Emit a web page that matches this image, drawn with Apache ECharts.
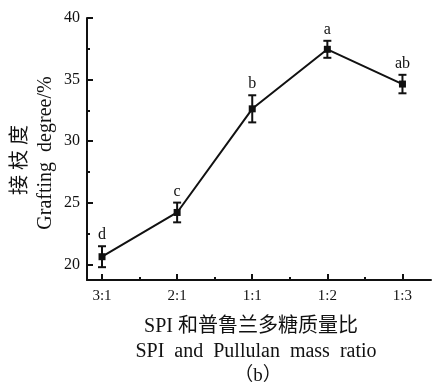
<!DOCTYPE html>
<html><head><meta charset="utf-8">
<script src="https://cdn.jsdelivr.net/npm/echarts@6/dist/echarts.min.js"></script>
<style>html,body{margin:0;padding:0;background:#fff}#c{width:432px;height:382px}</style>
</head><body><div id="c"></div>
<script>
const categories = ['3:1', '2:1', '1:1', '1:2', '1:3'];
const values = [20.63, 24.22, 32.63, 37.46, 34.64];
const errors = [0.85, 0.80, 1.10, 0.69, 0.75];
const letters = ['d', 'c', 'b', 'a', 'ab'];
const xPositions = [1, 2, 3, 4, 5];
const xMinorTicks = [1.5, 2.5, 3.5, 4.5];
const yTicks = [20, 25, 30, 35, 40];
const yMinorTicks = [22.5, 27.5, 32.5, 37.5];

const serif = '"Liberation Serif", "Noto Sans CJK SC", serif';
const ink = '#111';

const lineData = xPositions.map((x, i) => [x, values[i]]);
const errData = xPositions.map((x, i) => [x, values[i], errors[i]]);

const chart = echarts.init(document.getElementById('c'), null, {renderer: 'canvas'});
const xBase = {type: 'value', min: 0.8, max: 5.38, gridIndex: 0, splitLine: {show: false}};
const yBase = {type: 'value', min: 18.74, max: 40, gridIndex: 0, splitLine: {show: false}};
chart.setOption({
  animation: false,
  backgroundColor: '#fff',
  grid: {left: 87, right: 1, top: 18, bottom: 102, containLabel: false},
  xAxis: [
    Object.assign({}, xBase, {
      position: 'bottom',
      axisLine: {show: true, lineStyle: {color: ink, width: 2}},
      axisTick: {show: true, inside: true, length: 6, customValues: xPositions, lineStyle: {color: ink, width: 2}},
      axisLabel: {show: true, customValues: xPositions, margin: 9, color: ink, fontSize: 15, fontFamily: serif,
        formatter: v => categories[Math.round(v) - 1]}
    }),
    Object.assign({}, xBase, {
      position: 'bottom',
      axisLine: {show: false},
      axisTick: {show: true, inside: true, length: 3, customValues: xMinorTicks, lineStyle: {color: ink, width: 2}},
      axisLabel: {show: false}
    })
  ],
  yAxis: [
    Object.assign({}, yBase, {
      position: 'left',
      axisLine: {show: true, lineStyle: {color: ink, width: 2}},
      axisTick: {show: true, inside: true, length: 6, customValues: yTicks, lineStyle: {color: ink, width: 2}},
      axisLabel: {show: true, customValues: yTicks, margin: 7, color: ink, fontSize: 16, fontFamily: serif}
    }),
    Object.assign({}, yBase, {
      position: 'left',
      axisLine: {show: false},
      axisTick: {show: true, inside: true, length: 3, customValues: yMinorTicks, lineStyle: {color: ink, width: 2}},
      axisLabel: {show: false}
    })
  ],
  series: [
    {
      type: 'custom', xAxisIndex: 0, yAxisIndex: 0, data: errData, z: 3,
      renderItem: (params, api) => {
        const x = api.value(0), y = api.value(1), e = api.value(2);
        const top = api.coord([x, y + e]);
        const bot = api.coord([x, y - e]);
        const hw = 4;
        const st = {stroke: ink, lineWidth: 2};
        return {type: 'group', children: [
          {type: 'line', shape: {x1: top[0], y1: top[1], x2: bot[0], y2: bot[1]}, style: st},
          {type: 'line', shape: {x1: top[0] - hw, y1: top[1], x2: top[0] + hw, y2: top[1]}, style: st},
          {type: 'line', shape: {x1: bot[0] - hw, y1: bot[1], x2: bot[0] + hw, y2: bot[1]}, style: st},
          {type: 'text', x: top[0], y: top[1] - 3, style: {text: letters[params.dataIndex], align: 'center', verticalAlign: 'bottom', fontSize: 16, fontFamily: serif, fill: ink}}
        ]};
      }
    },
    {
      type: 'line', xAxisIndex: 0, yAxisIndex: 0, data: lineData, z: 4,
      symbol: 'rect', symbolSize: 7, showSymbol: true,
      itemStyle: {color: ink}, lineStyle: {color: ink, width: 2}
    }
  ],
  graphic: [
    {type: 'text', x: 21, y: 160, rotation: Math.PI / 2,
      style: {text: '接 枝 度', align: 'center', verticalAlign: 'middle', fontSize: 20, fontFamily: serif, fill: ink}},
    {type: 'text', x: 46, y: 153, rotation: Math.PI / 2,
      style: {text: 'Grafting  degree/%', align: 'center', verticalAlign: 'middle', fontSize: 20, fontFamily: serif, fill: ink}},
    {type: 'text', x: 251, y: 327,
      style: {text: 'SPI 和普鲁兰多糖质量比', align: 'center', verticalAlign: 'middle', fontSize: 20, fontFamily: serif, fill: ink}},
    {type: 'text', x: 256, y: 352,
      style: {text: 'SPI  and  Pullulan  mass  ratio', align: 'center', verticalAlign: 'middle', fontSize: 20, fontFamily: serif, fill: ink}},
    {type: 'text', x: 258, y: 376,
      style: {text: '（b）', align: 'center', verticalAlign: 'middle', fontSize: 19, fontFamily: serif, fill: ink}}
  ]
});
</script>
</body></html>
